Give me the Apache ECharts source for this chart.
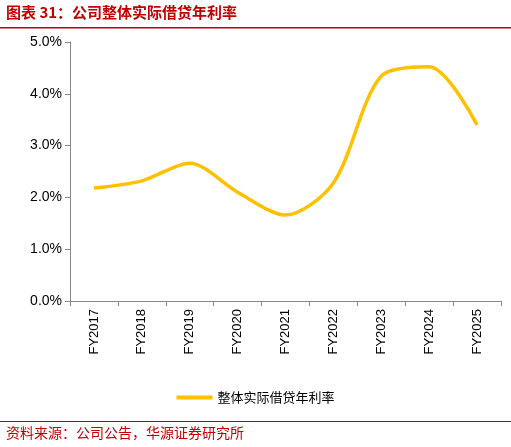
<!DOCTYPE html>
<html><head><meta charset="utf-8">
<script src="https://cdn.jsdelivr.net/npm/echarts@6/dist/echarts.min.js"></script>
<style>body{margin:0}#c{width:511px;height:447px}</style></head>
<body><div id="c"></div>
<script>
const categories=['FY2017','FY2018','FY2019','FY2020','FY2021','FY2022','FY2023','FY2024','FY2025'];
const rates=[2.18,2.32,2.66,2.10,1.66,2.28,4.34,4.52,3.40];
const seriesName='整体实际借贷年利率';
const ch=echarts.init(document.getElementById('c'));
ch.setOption({
 animation:false,
 graphic:[
  {type:'text',left:6,top:5,style:{text:'图表 31：公司整体实际借贷年利率',fill:'#C00000',font:'bold 15px "Noto Sans CJK SC"'}},
  {type:'rect',shape:{x:0,y:27,width:511,height:1.5},style:{fill:'#C00000'}},
  {type:'rect',shape:{x:0,y:421,width:511,height:1},style:{fill:'#C00000'}},
  {type:'text',left:6,top:426,style:{text:'资料来源：公司公告，华源证券研究所',fill:'#C00000',font:'14px "Noto Sans CJK SC"'}}
 ],
 grid:{left:70,right:10,top:42,bottom:146},
 legend:{bottom:38,left:'center',data:[seriesName],itemWidth:36,itemHeight:4,textStyle:{fontSize:13,color:'#000',fontFamily:'Noto Sans CJK SC'},icon:'rect'},
 xAxis:{type:'category',data:categories,axisLine:{lineStyle:{color:'#888'}},axisTick:{show:true,lineStyle:{color:'#888'}},axisLabel:{rotate:90,color:'#000',fontSize:13,fontFamily:'Arial'}},
 yAxis:{type:'value',min:0,max:5,interval:1,splitLine:{show:false},axisLine:{show:true,lineStyle:{color:'#888'}},axisTick:{show:true,lineStyle:{color:'#888'}},axisLabel:{color:'#000',fontSize:14,fontFamily:'Arial',formatter:v=>v.toFixed(1)+'%'}},
 series:[{name:seriesName,type:'line',data:rates,smooth:0.3,symbol:'none',lineStyle:{color:'#FFC000',width:3.5},itemStyle:{color:'#FFC000'}}]
});
</script></body></html>
